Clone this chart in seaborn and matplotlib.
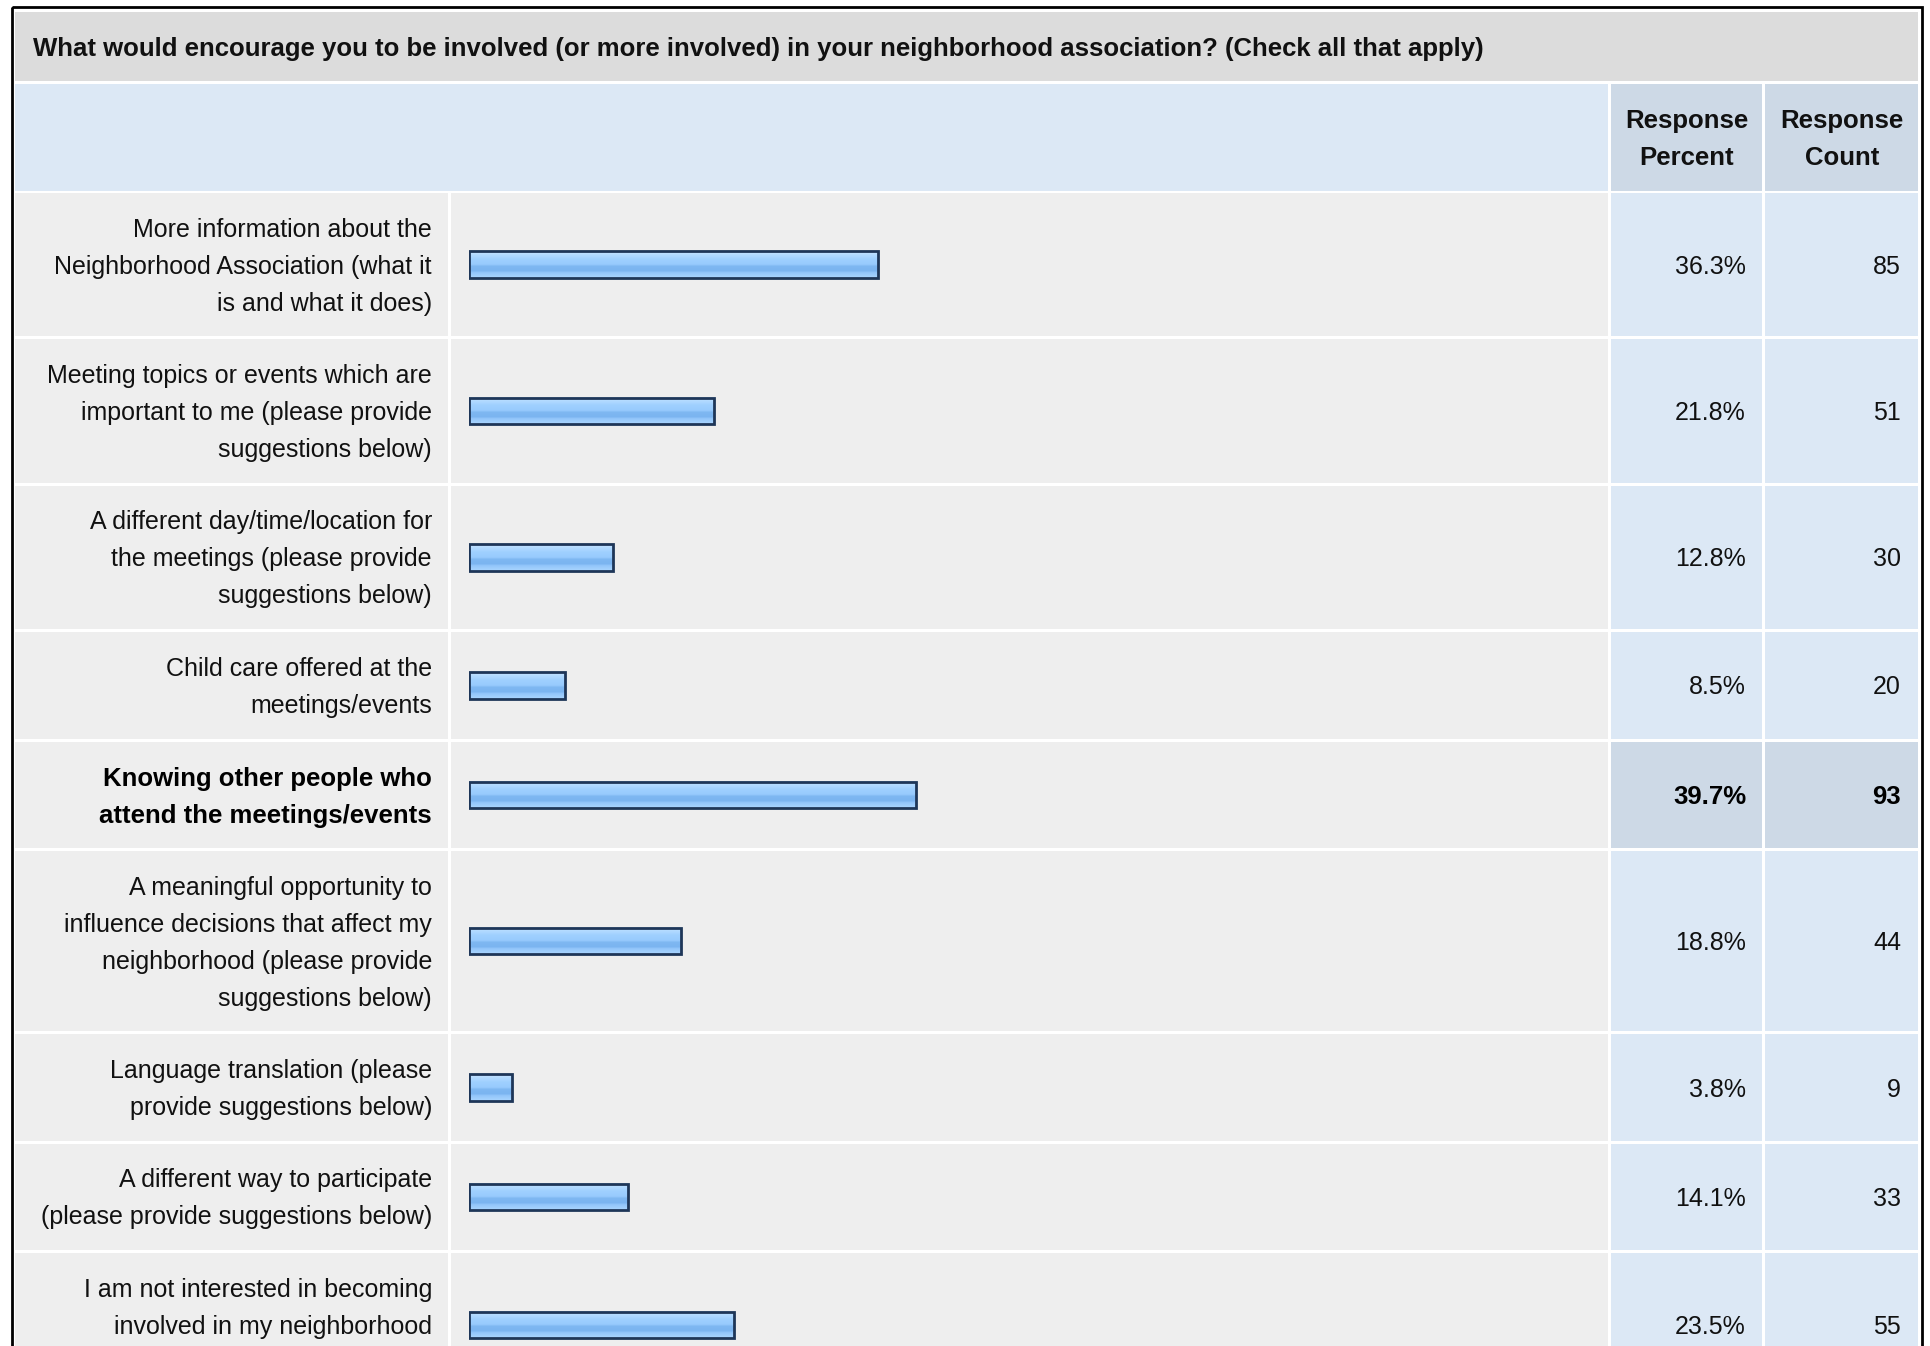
import matplotlib
matplotlib.use('Agg')
import matplotlib.pyplot as plt
import seaborn as sns
import numpy as np
import pandas as pd
from matplotlib.patches import Rectangle
from matplotlib.colors import LinearSegmentedColormap

# ---------------- data ----------------
title = ("What would encourage you to be involved (or more involved) in your "
         "neighborhood association? (Check all that apply)")
header_pct = ["Response", "Percent"]
header_cnt = ["Response", "Count"]
answers = [
    "More information about the\nNeighborhood Association (what it\nis and what it does)",
    "Meeting topics or events which are\nimportant to me (please provide\nsuggestions below)",
    "A different day/time/location for\nthe meetings (please provide\nsuggestions below)",
    "Child care offered at the\nmeetings/events",
    "Knowing other people who\nattend the meetings/events",
    "A meaningful opportunity to\ninfluence decisions that affect my\nneighborhood (please provide\nsuggestions below)",
    "Language translation (please\nprovide suggestions below)",
    "A different way to participate\n(please provide suggestions below)",
    "I am not interested in becoming\ninvolved in my neighborhood\nassociation",
]
percents = [36.3, 21.8, 12.8, 8.5, 39.7, 18.8, 3.8, 14.1, 23.5]
counts = [85, 51, 30, 20, 93, 44, 9, 33, 55]

df = pd.DataFrame({"answer": answers, "percent": percents, "count": counts})
best = int(np.argmax(percents))

# ---------------- style ----------------
sns.set_theme(style="white")
plt.rcParams['font.family'] = ['Liberation Sans', 'DejaVu Sans']

W, H = 1931, 1346
fig = plt.figure(figsize=(W / 100, H / 100), dpi=100)
fig.patch.set_facecolor('white')
bg = fig.add_axes([0, 0, 1, 1])
bg.set_xlim(0, W)
bg.set_ylim(H, 0)
bg.axis('off')

renderer = fig.canvas.get_renderer()


def fit(text, weight, target):
    t = bg.text(0, 0, text, fontsize=20, fontweight=weight)
    w = t.get_window_extent(renderer).width
    t.remove()
    return 20 * target / w


fs_reg = fit("More information about the", "normal", 298)
fs_bold = fit("Knowing other people who", "bold", 329)
fs_title = fit(title, "bold", 1450)

TXT = '#111111'
C_TITLE = '#dcdcdc'
C_HEAD = '#dce8f5'
C_HEADCOL = '#cdd9e6'
C_ROW = '#eeeeee'
C_NUM = '#dce8f5'


def cell(x0, x1, y0, y1, color):
    bg.add_patch(Rectangle((x0, y0), x1 - x0, y1 - y0, facecolor=color,
                           edgecolor='none', zorder=1))


def base_off(fs):
    return 0.358 * fs * 100 / 72


# column geometry (pixels)
LX0, LX1 = 15.5, 448
BX0, BX1 = 451, 1608
PX0, PX1 = 1611, 1762.5
CX0, CX1 = 1765.5, 1918.5
LINE = 37
PAD = 32.4
GAP = 3

# outer border
bg.add_patch(Rectangle((12.2, 7.2), 1921.8 - 12.2, 3000, fill=False,
                       edgecolor='black', lw=2.0, zorder=5))

# title band
cell(LX0, CX1, 12, 81, C_TITLE)
bg.text(33, 47 + base_off(fs_title), title, fontsize=fs_title,
        fontweight='bold', color=TXT, ha='left', va='baseline', zorder=3)

# header band
cell(LX0, BX1, 84, 190.5, C_HEAD)
cell(PX0, PX1, 84, 190.5, C_HEADCOL)
cell(CX0, CX1, 84, 190.5, C_HEADCOL)
hc = 137.3
for lines, xc in ((header_pct, (PX0 + PX1) / 2), (header_cnt, (CX0 + CX1) / 2)):
    for i, s in enumerate(lines):
        y = hc + (i - 0.5) * LINE + base_off(fs_bold)
        bg.text(xc, y, s, fontsize=fs_bold, fontweight='bold', color=TXT,
                ha='center', va='baseline', zorder=3)

# gradient for bars
grad_cmap = LinearSegmentedColormap.from_list('bar', [
    (0.00, '#cfe7ff'), (0.12, '#b4dbff'), (0.30, '#9fd0ff'),
    (0.50, '#97cafd'), (0.56, '#7fb8f2'), (0.74, '#7ab4f0'),
    (0.80, '#92c5fa'), (1.00, '#aad6ff')])
grad = np.linspace(0, 1, 64).reshape(-1, 1)

BAR_X0, BAR_X1 = 469, 1594.6
BAR_H = 26.5

y0 = 193
for i, row in df.iterrows():
    lines = row['answer'].split('\n')
    n = len(lines)
    h = n * LINE + PAD
    y1 = y0 + h
    yc = (y0 + y1) / 2
    bold = (i == best)
    cell(LX0, LX1, y0, y1, C_ROW)
    cell(BX0, BX1, y0, y1, C_ROW)
    cell(PX0, PX1, y0, y1, C_HEADCOL if bold else C_NUM)
    cell(CX0, CX1, y0, y1, C_HEADCOL if bold else C_NUM)

    fs = fs_bold if bold else fs_reg
    fw = 'bold' if bold else 'normal'
    col = '#000000' if bold else TXT
    for k, s in enumerate(lines):
        yy = yc + (k - (n - 1) / 2) * LINE + base_off(fs)
        bg.text(432, yy, s, fontsize=fs, fontweight=fw, color=col,
                ha='right', va='baseline', zorder=3)
    bg.text(1746, yc + base_off(fs), f"{row['percent']:.1f}%", fontsize=fs,
            fontweight=fw, color=col, ha='right', va='baseline', zorder=3)
    bg.text(1901, yc + base_off(fs), f"{row['count']}", fontsize=fs,
            fontweight=fw, color=col, ha='right', va='baseline', zorder=3)

    # bar axes for this row
    ax = fig.add_axes([BAR_X0 / W, 1 - y1 / H, (BAR_X1 - BAR_X0) / W, h / H])
    wfrac = BAR_H / h
    sns.barplot(data=df.iloc[[i]], x='percent', y='answer', orient='h',
                width=wfrac, color='#99ccff', saturation=1,
                edgecolor='#1e3658', linewidth=2.0, ax=ax)
    p = ax.patches[0]
    bb = p.get_bbox()
    ax.imshow(grad, cmap=grad_cmap, aspect='auto', origin='upper',
              extent=[bb.x0, bb.x1, max(bb.y0, bb.y1), min(bb.y0, bb.y1)],
              zorder=2, interpolation='bilinear')
    p.set_facecolor('none')
    p.set_zorder(3)
    ax.set_xlim(0, 100)
    ax.set_ylim(0.5, -0.5)
    ax.axis('off')
    ax.patch.set_alpha(0)

    y0 = y1 + GAP

fig.savefig('out.png', dpi=100, facecolor='white')
